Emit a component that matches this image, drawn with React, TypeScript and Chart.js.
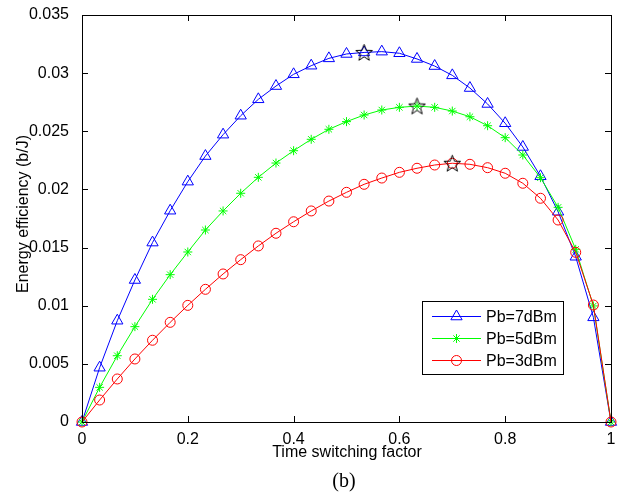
import React, { useEffect, useRef } from "react";
import { Chart, registerables } from "chart.js";

Chart.register(...registerables);

const xValues = [0, 0.0333, 0.0667, 0.1, 0.1333, 0.1667, 0.2, 0.2333, 0.2667, 0.3, 0.3333, 0.3667, 0.4, 0.4333, 0.4667, 0.5, 0.5333, 0.5667, 0.6, 0.6333, 0.6667, 0.7, 0.7333, 0.7667, 0.8, 0.8333, 0.8667, 0.9, 0.9333, 0.9667, 1];

const pb7 = [0, 0.00467, 0.00871, 0.01221, 0.01543, 0.01817, 0.02067, 0.02287, 0.02471, 0.02634, 0.02775, 0.02889, 0.0299, 0.03064, 0.03127, 0.03165, 0.03178, 0.03185, 0.03171, 0.03122, 0.03061, 0.02981, 0.02872, 0.02735, 0.02569, 0.02365, 0.02113, 0.01808, 0.01421, 0.009, 0];

const pb5 = [0, 0.00298, 0.0057, 0.0082, 0.01055, 0.01267, 0.01462, 0.01651, 0.01815, 0.01967, 0.02104, 0.02227, 0.02333, 0.02431, 0.02517, 0.02583, 0.0264, 0.02683, 0.02706, 0.02717, 0.02706, 0.02674, 0.02625, 0.02548, 0.02445, 0.02296, 0.02101, 0.01846, 0.01485, 0.00998, 0];

const pb3 = [0, 0.00189, 0.0037, 0.00542, 0.00703, 0.00857, 0.01003, 0.01141, 0.01273, 0.01396, 0.01514, 0.01623, 0.01722, 0.01815, 0.019, 0.01975, 0.02044, 0.02098, 0.02147, 0.02182, 0.0221, 0.02225, 0.02216, 0.02187, 0.02139, 0.02053, 0.01924, 0.01737, 0.01459, 0.01006, 0];

const peakX = [0.5333, 0.6333, 0.7];
const peakY = [0.03178, 0.02717, 0.02225];

const seriesLabels = ["Pb=7dBm", "Pb=5dBm", "Pb=3dBm"];
const xTitle = "Time switching factor";
const yTitle = "Energy efficiency (b/J)";
const caption = "(b)";

const FONT = "'Liberation Sans', Arial, Helvetica, sans-serif";

const fmt = (v: number) => String(parseFloat(v.toFixed(4)));

function makeStar(): HTMLCanvasElement {
  const c = document.createElement("canvas");
  c.width = 19;
  c.height = 19;
  const ctx = c.getContext("2d")!;
  const cx = 9.5, cy = 10.2, ro = 8.8, ri = 3.6;
  ctx.beginPath();
  for (let i = 0; i < 10; i++) {
    const r = i % 2 === 0 ? ro : ri;
    const a = -Math.PI / 2 + (i * Math.PI) / 5;
    const px = cx + r * Math.cos(a);
    const py = cy + r * Math.sin(a);
    if (i === 0) ctx.moveTo(px, py);
    else ctx.lineTo(px, py);
  }
  ctx.closePath();
  ctx.strokeStyle = "#000";
  ctx.lineWidth = 1;
  ctx.stroke();
  return c;
}

function drawMarker(ctx: CanvasRenderingContext2D, style: string, x: number, y: number, r: number, color: string) {
  ctx.save();
  ctx.strokeStyle = color;
  ctx.lineWidth = 1;
  ctx.beginPath();
  if (style === "triangle") {
    ctx.moveTo(x, y - r);
    ctx.lineTo(x + 0.866 * r, y + 0.5 * r);
    ctx.lineTo(x - 0.866 * r, y + 0.5 * r);
    ctx.closePath();
  } else if (style === "circle") {
    ctx.arc(x, y, r, 0, Math.PI * 2);
  } else {
    for (let k = 0; k < 4; k++) {
      const a = (k * Math.PI) / 4;
      ctx.moveTo(x - r * Math.cos(a), y - r * Math.sin(a));
      ctx.lineTo(x + r * Math.cos(a), y + r * Math.sin(a));
    }
  }
  ctx.stroke();
  ctx.restore();
}

const framePlugin = {
  id: "matlabFrame",
  afterDraw(chart: any) {
    const ctx: CanvasRenderingContext2D = chart.ctx;
    const { left, right, top, bottom } = chart.chartArea;
    const xs = chart.scales.x;
    const ys = chart.scales.y;
    ctx.save();
    ctx.strokeStyle = "#000";
    ctx.lineWidth = 1;
    ctx.strokeRect(Math.round(left) + 0.5, Math.round(top) + 0.5, Math.round(right - left), Math.round(bottom - top));
    const tl = 6;
    ctx.beginPath();
    xs.ticks.forEach((t: any) => {
      const px = Math.round(xs.getPixelForValue(t.value)) + 0.5;
      ctx.moveTo(px, bottom);
      ctx.lineTo(px, bottom - tl);
      ctx.moveTo(px, top);
      ctx.lineTo(px, top + tl);
    });
    ys.ticks.forEach((t: any) => {
      const py = Math.round(ys.getPixelForValue(t.value)) + 0.5;
      ctx.moveTo(left, py);
      ctx.lineTo(left + tl, py);
      ctx.moveTo(right, py);
      ctx.lineTo(right - tl, py);
    });
    ctx.stroke();

    const lx = 422.5, ly = 301.5, lw = 141, lh = 73;
    ctx.fillStyle = "#fff";
    ctx.fillRect(lx, ly, lw, lh);
    ctx.strokeStyle = "#000";
    ctx.strokeRect(lx, ly, lw, lh);
    const rowsY = [316.5, 338.5, 360.5];
    const sets = chart.data.datasets;
    for (let i = 0; i < 3; i++) {
      const ds = sets.find((d: any) => d.label === seriesLabels[i]);
      const yy = rowsY[i];
      ctx.strokeStyle = ds.borderColor;
      ctx.lineWidth = 1;
      ctx.beginPath();
      ctx.moveTo(432, yy);
      ctx.lineTo(481, yy);
      ctx.stroke();
      drawMarker(ctx, ds.pointStyle, 456.5, yy, ds.pointStyle === "triangle" ? 6.5 : ds.pointStyle === "circle" ? 5 : 4.5, ds.borderColor);
      ctx.fillStyle = "#000";
      ctx.font = `16px ${FONT}`;
      ctx.textAlign = "left";
      ctx.textBaseline = "middle";
      ctx.fillText(ds.label, 486, yy + 1);
    }

    ctx.fillStyle = "#000";
    ctx.font = `16px ${FONT}`;
    ctx.textAlign = "center";
    ctx.textBaseline = "alphabetic";
    ctx.fillText(xTitle, 347, 457);
    ctx.save();
    ctx.translate(27.5, 214);
    ctx.rotate(-Math.PI / 2);
    ctx.fillText(yTitle, 0, 0);
    ctx.restore();
    ctx.font = `20px 'Liberation Serif', 'Times New Roman', serif`;
    ctx.fillText(caption, 344, 487);
    ctx.restore();
  },
};

export default function App() {
  const ref = useRef<HTMLCanvasElement | null>(null);
  useEffect(() => {
    if (!ref.current) return;
    const star = makeStar();
    const toPts = (ys: number[]) => ys.map((v, i) => ({ x: xValues[i], y: v }));
    const chart = new Chart(ref.current, {
      type: "line",
      data: {
        datasets: [
          {
            label: "peaks",
            data: peakX.map((x, i) => ({ x, y: peakY[i] })),
            showLine: false,
            pointStyle: star as any,
            pointRadius: 9,
            borderColor: "#000",
            order: -1,
            clip: false as any,
          },
          {
            label: seriesLabels[0],
            data: toPts(pb7),
            borderColor: "rgb(0,0,255)",
            backgroundColor: "transparent",
            pointStyle: "triangle",
            pointRadius: 6.5,
            pointBorderWidth: 1,
            borderWidth: 1,
            order: 2,
            clip: false as any,
          },
          {
            label: seriesLabels[1],
            data: toPts(pb5),
            borderColor: "rgb(0,255,0)",
            backgroundColor: "transparent",
            pointStyle: "star",
            pointRadius: 4.5,
            pointBorderWidth: 1,
            borderWidth: 1,
            order: 1,
            clip: false as any,
          },
          {
            label: seriesLabels[2],
            data: toPts(pb3),
            borderColor: "rgb(255,0,0)",
            backgroundColor: "transparent",
            pointStyle: "circle",
            pointRadius: 5,
            pointBorderWidth: 1,
            borderWidth: 1,
            order: 0,
            clip: false as any,
          },
        ],
      },
      options: {
        animation: false,
        responsive: false,
        devicePixelRatio: 1,
        events: [],
        layout: { padding: { left: 0, top: 15, right: 25, bottom: 0 } },
        elements: { line: { tension: 0 }, point: { hoverRadius: 0 } },
        plugins: { legend: { display: false }, tooltip: { enabled: false }, title: { display: false } },
        scales: {
          x: {
            type: "linear",
            min: 0,
            max: 1,
            offset: false,
            grid: { display: false },
            border: { display: false },
            ticks: { stepSize: 0.2, color: "#000", font: { family: FONT, size: 16 }, padding: 0, maxRotation: 0, callback: (v: any) => fmt(Number(v)) },
            afterFit: (s: any) => { s.height = 78; },
          },
          y: {
            type: "linear",
            min: 0,
            max: 0.035,
            grid: { display: false },
            border: { display: false },
            ticks: { stepSize: 0.005, color: "#000", font: { family: FONT, size: 16 }, padding: 5, callback: (v: any) => fmt(Number(v)) },
            afterFit: (s: any) => { s.width = 82; },
          },
        },
      },
      plugins: [framePlugin],
    });
    return () => chart.destroy();
  }, []);
  return (
    <div style={{ position: "absolute", left: 0, top: 0, width: 636, height: 500, background: "#fff" }}>
      <canvas ref={ref} width={636} height={500} />
    </div>
  );
}
